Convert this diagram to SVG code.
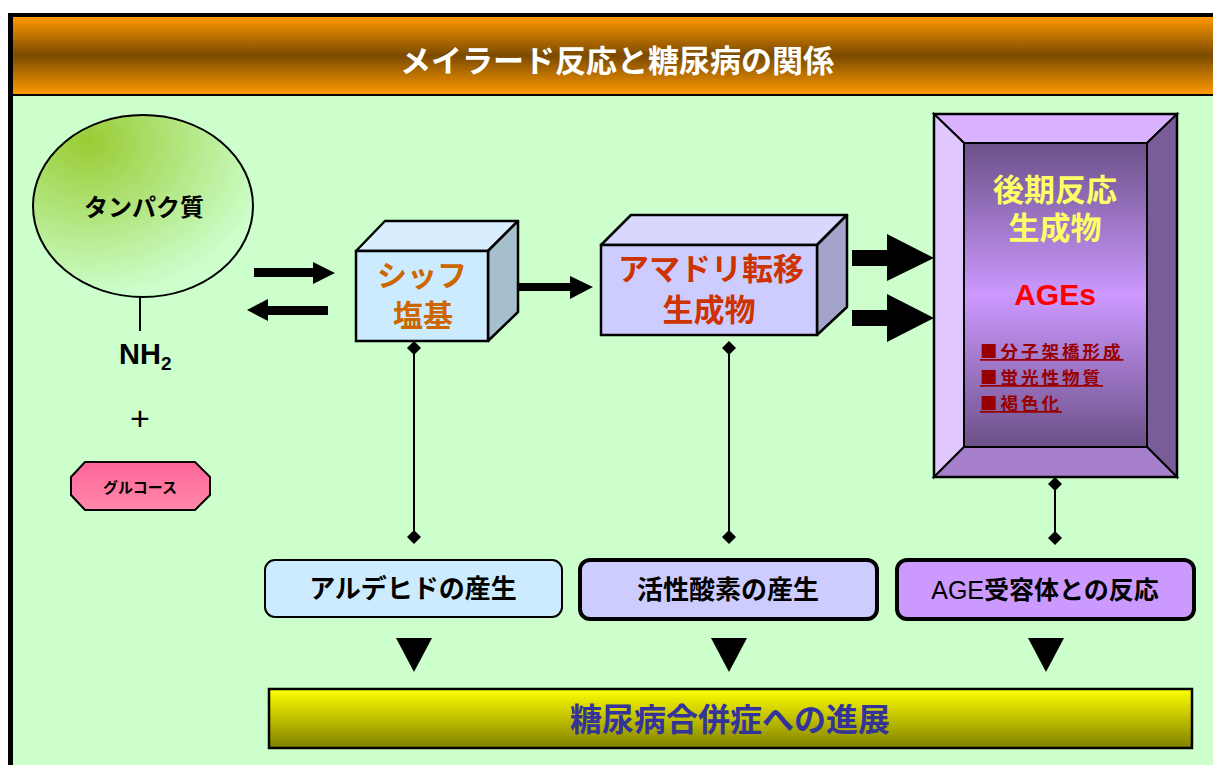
<svg xmlns="http://www.w3.org/2000/svg" width="1213" height="765" viewBox="0 0 1213 765">
<defs>
<linearGradient id="gTitle" x1="0" y1="0" x2="0" y2="1">
<stop offset="0" stop-color="#FF9900"/><stop offset="0.5" stop-color="#7A4A00"/><stop offset="1" stop-color="#FF9900"/>
</linearGradient>
<radialGradient id="gProt" cx="0.25" cy="0.15" r="0.85">
<stop offset="0" stop-color="#99CC33"/><stop offset="1" stop-color="#CCFFCC"/>
</radialGradient>
<linearGradient id="gGlu" x1="0" y1="0" x2="0" y2="1">
<stop offset="0" stop-color="#FF6699"/><stop offset="1" stop-color="#FF88AA"/>
</linearGradient>
<linearGradient id="gAge" x1="0" y1="0" x2="0" y2="1">
<stop offset="0" stop-color="#6B5088"/><stop offset="0.5" stop-color="#CC99FF"/><stop offset="1" stop-color="#6B5088"/>
</linearGradient>
<linearGradient id="gBar" x1="0" y1="0" x2="0" y2="1">
<stop offset="0" stop-color="#FFFF00"/><stop offset="1" stop-color="#808000"/>
</linearGradient>
<marker id="dia" viewBox="0 0 16 16" refX="8" refY="8" markerWidth="16" markerHeight="16" markerUnits="userSpaceOnUse" orient="auto">
<path d="M8 1 L15 8 L8 15 L1 8 Z" fill="#000"/>
</marker>
<style>
.jp{font-family:"Liberation Sans","Noto Sans CJK JP",sans-serif;font-weight:bold;text-anchor:middle}
.ln{stroke:#000;stroke-width:2;fill:none}
.blk{fill:#000}
</style>
</defs>
<rect x="0" y="0" width="1213" height="765" fill="#FFFFFF"/>
<rect x="8" y="13" width="1210" height="760" fill="#000"/>
<rect x="13" y="17" width="1205" height="77" fill="url(#gTitle)"/>
<rect x="13" y="96" width="1205" height="670" fill="#CCFFCC"/>
<text class="jp" x="617" y="72" font-size="31" fill="#FFFFFF">メイラード反応と糖尿病の関係</text>

<g id="connectors">
<path class="blk" d="M254 268 H313 V262 L335 273 L313 284 V277 H254 Z"/>
<path class="blk" d="M328 306 H268 V299 L247 310 L268 321 V315 H328 Z"/>
<path class="blk" d="M511 283 H570 V276 L593 287 L570 299 V291 H511 Z"/>
<path class="blk" d="M852 250 H887 V234 L934 258 L887 281 V266 H852 Z"/>
<path class="blk" d="M852 310 H887 V294 L934 318 L887 342 V326 H852 Z"/>
<line class="ln" x1="140" y1="297" x2="140" y2="331"/>
<line class="ln" x1="414" y1="348" x2="414" y2="537" marker-start="url(#dia)" marker-end="url(#dia)"/>
<line class="ln" x1="729" y1="348" x2="729" y2="537" marker-start="url(#dia)" marker-end="url(#dia)"/>
<line class="ln" x1="1055" y1="484" x2="1055" y2="538" marker-start="url(#dia)" marker-end="url(#dia)"/>
<path class="blk" d="M396 638 H432 L414 672 Z"/>
<path class="blk" d="M711 638 H747 L729 672 Z"/>
<path class="blk" d="M1028 638 H1064 L1046 672 Z"/>
</g>

<g id="protein">
<ellipse cx="143" cy="206" rx="110" ry="91" fill="url(#gProt)" stroke="#000" stroke-width="2"/>
<text class="jp" x="144" y="216" font-size="24" fill="#000">タンパク質</text>
</g>
<g id="nh2">
<text x="119" y="364" font-size="29" font-weight="bold" font-family="'Liberation Sans',sans-serif" fill="#000">NH<tspan font-size="19" dy="6">2</tspan></text>
</g>
<g id="plus">
<text x="140" y="430" font-size="34" text-anchor="middle" font-family="'Liberation Sans',sans-serif" fill="#000">+</text>
</g>
<g id="glucose">
<path d="M85 462 H195 L210 477 V495 L195 510 H85 L71 495 V477 Z" fill="url(#gGlu)" stroke="#000" stroke-width="2"/>
<text class="jp" x="140" y="493" font-size="15" fill="#000">グルコース</text>
</g>

<g id="schiff">
<path d="M356 251 L385 221 H518 L488 251 Z" fill="#D8EEFF" stroke="#000" stroke-width="2.5" stroke-linejoin="round"/>
<path d="M488 251 L518 221 V312 L488 341 Z" fill="#A5BFCC" stroke="#000" stroke-width="2.5" stroke-linejoin="round"/>
<rect x="356" y="251" width="132" height="90" fill="#CCEBFF" stroke="#000" stroke-width="2.5"/>
<text class="jp" x="422" y="286" font-size="30" fill="#CC6600">シッフ</text>
<text class="jp" x="423" y="326" font-size="30" fill="#CC6600">塩基</text>
</g>

<g id="amadori">
<path d="M601 245 L631 215 H847 L817 245 Z" fill="#D8D8FF" stroke="#000" stroke-width="2.5" stroke-linejoin="round"/>
<path d="M817 245 L847 215 V307 L817 335 Z" fill="#A3A3CC" stroke="#000" stroke-width="2.5" stroke-linejoin="round"/>
<rect x="601" y="245" width="216" height="90" fill="#CCCCFF" stroke="#000" stroke-width="2.5"/>
<text class="jp" x="711" y="280" font-size="31" fill="#CC3300">アマドリ転移</text>
<text class="jp" x="709" y="321" font-size="31" fill="#CC3300">生成物</text>
</g>

<g id="ages">
<path d="M934 114 H1177 L1147 143 H964 Z" fill="#D9B3FF" stroke="#000" stroke-width="2"/>
<path d="M934 114 L964 143 V447 L934 477 Z" fill="#E0C8FF" stroke="#000" stroke-width="2"/>
<path d="M1177 114 V477 L1147 447 V143 Z" fill="#7A5C99" stroke="#000" stroke-width="2"/>
<path d="M934 477 L964 447 H1147 L1177 477 Z" fill="#A680CC" stroke="#000" stroke-width="2"/>
<rect x="964" y="143" width="183" height="304" fill="url(#gAge)" stroke="#000" stroke-width="2"/>
<rect x="934" y="114" width="243" height="363" fill="none" stroke="#000" stroke-width="2.5"/>
<text class="jp" x="1055" y="201" font-size="31" fill="#FFFF66">後期反応</text>
<text class="jp" x="1055" y="239" font-size="31" fill="#FFFF66">生成物</text>
<text class="jp" x="1055" y="305" font-size="30" fill="#FF0000">AGEs</text>
<g font-family="'Noto Sans CJK JP',sans-serif" font-weight="bold" font-size="17.5" letter-spacing="3" fill="#990000" text-decoration="underline">
<text x="980" y="358">■分子架橋形成</text>
<text x="980" y="384">■蛍光性物質</text>
<text x="980" y="410">■褐色化</text>
</g>
</g>

<g id="aldehyde">
<rect x="265" y="560" width="297" height="57" rx="10" fill="#CCEBFF" stroke="#000" stroke-width="2"/>
<text class="jp" x="413" y="598" font-size="26" fill="#000">アルデヒドの産生</text>
</g>
<g id="ros">
<rect x="580" y="560" width="297" height="59" rx="10" fill="#CCCCFF" stroke="#000" stroke-width="4"/>
<text class="jp" x="728" y="599" font-size="26" fill="#000">活性酸素の産生</text>
</g>
<g id="receptor">
<rect x="897" y="560" width="297" height="59" rx="10" fill="#CC99FF" stroke="#000" stroke-width="4"/>
<text class="jp" x="1045" y="599" font-size="25" fill="#000"><tspan font-weight="normal">AGE</tspan>受容体との反応</text>
</g>
<g id="complications">
<rect x="269" y="689" width="923" height="59" fill="url(#gBar)" stroke="#000" stroke-width="2.5"/>
<text class="jp" x="730" y="731" font-size="32" fill="#333399">糖尿病合併症への進展</text>
</g>
</svg>
